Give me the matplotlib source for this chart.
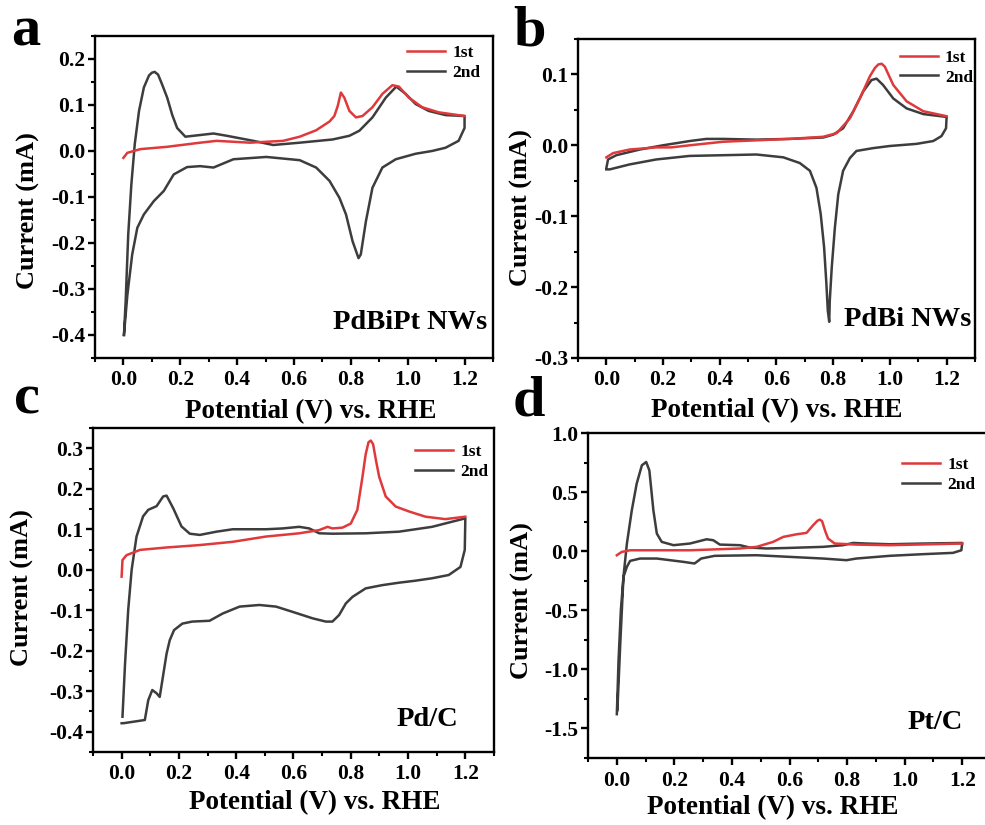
import matplotlib
matplotlib.use("Agg")
import matplotlib.pyplot as plt
from matplotlib.ticker import MultipleLocator, FormatStrFormatter

plt.rcParams['font.family'] = ['Liberation Serif', 'DejaVu Serif']
plt.rcParams['font.weight'] = 'bold'

RED = '#e0393b'
DARK = '#3d3d3d'

# ---- panel a : PdBiPt NWs ----
a_1st_v = [0.0, 0.014, 0.06, 0.153, 0.27, 0.328, 0.445, 0.562, 0.62, 0.678, 0.725,
           0.742, 0.754, 0.765, 0.777, 0.795, 0.818, 0.841, 0.876, 0.911, 0.946,
           0.969, 1.004, 1.051, 1.109, 1.2]
a_1st_i = [-0.015, -0.004, 0.004, 0.009, 0.018, 0.022, 0.018, 0.022, 0.031, 0.045, 0.064,
           0.076, 0.098, 0.127, 0.116, 0.087, 0.073, 0.076, 0.095, 0.124, 0.143,
           0.14, 0.116, 0.095, 0.084, 0.076]

a_2nd_v = [0.002, 0.008, 0.017, 0.028, 0.040, 0.055, 0.072, 0.090, 0.100, 0.110, 0.122,
           0.136, 0.154, 0.172, 0.189, 0.218, 0.317, 0.364, 0.457, 0.527, 0.62, 0.736,
           0.795, 0.83, 0.876, 0.923, 0.96, 0.993, 1.028, 1.074, 1.133, 1.2,
           1.2, 1.179, 1.133, 1.086, 1.028, 0.958, 0.911, 0.876, 0.853, 0.835, 0.827,
           0.806, 0.783, 0.76, 0.725, 0.678, 0.62, 0.503, 0.387, 0.317, 0.27, 0.224,
           0.177, 0.142, 0.107, 0.072, 0.049, 0.031, 0.014, 0.002]
a_2nd_i = [-0.40, -0.327, -0.182, -0.073, 0.015, 0.087, 0.138, 0.164, 0.170, 0.172, 0.166,
           0.145, 0.116, 0.078, 0.05, 0.031, 0.038, 0.033, 0.022, 0.013, 0.018, 0.025,
           0.033, 0.044, 0.073, 0.116, 0.14, 0.124, 0.102, 0.087, 0.078, 0.076,
           0.05, 0.022, 0.007, 0.0, -0.006, -0.018, -0.036, -0.08, -0.153, -0.225, -0.233,
           -0.196, -0.138, -0.102, -0.065, -0.036, -0.02, -0.013, -0.018, -0.036, -0.033, -0.035,
           -0.051, -0.087, -0.109, -0.138, -0.167, -0.225, -0.313, -0.40]

# ---- panel b : PdBi NWs ----
b_1st_v = [0.0, 0.024, 0.082, 0.176, 0.229, 0.294, 0.412, 0.529, 0.647, 0.765, 0.812,
           0.859, 0.894, 0.929, 0.947, 0.959, 0.971, 0.982, 1.012, 1.059, 1.118, 1.2]
b_1st_i = [-0.017, -0.011, -0.006, -0.003, -0.003, 0.0, 0.005, 0.007, 0.009, 0.012, 0.017,
           0.038, 0.066, 0.097, 0.109, 0.114, 0.115, 0.111, 0.085, 0.062, 0.048, 0.041]

b_2nd_v = [0.0, 0.006, 0.035, 0.118, 0.2, 0.294, 0.353, 0.412, 0.529, 0.647, 0.765,
           0.8, 0.835, 0.871, 0.906, 0.935, 0.953, 0.976, 1.012, 1.059, 1.118, 1.2,
           1.198, 1.182, 1.153, 1.094, 1.0, 0.941, 0.882, 0.859, 0.835, 0.818, 0.806,
           0.795, 0.788, 0.786, 0.781, 0.776, 0.768, 0.756, 0.741, 0.718, 0.682, 0.624,
           0.529, 0.412, 0.294, 0.176, 0.082, 0.012, 0.0]
b_2nd_i = [-0.032, -0.02, -0.014, -0.006, 0.0, 0.006, 0.009, 0.009, 0.008, 0.009, 0.011,
           0.015, 0.024, 0.048, 0.076, 0.092, 0.094, 0.085, 0.066, 0.052, 0.044, 0.04,
           0.024, 0.013, 0.006, 0.002, -0.001, -0.004, -0.008, -0.018, -0.036, -0.069, -0.116,
           -0.172, -0.219, -0.249, -0.233, -0.195, -0.144, -0.097, -0.06, -0.036, -0.025, -0.017,
           -0.013, -0.014, -0.015, -0.02, -0.027, -0.034, -0.034]

# ---- panel c : Pd/C ----
c_1st_v = [0.0, 0.003, 0.017, 0.064, 0.157, 0.273, 0.388, 0.504, 0.62, 0.69, 0.719,
           0.736, 0.771, 0.8, 0.823, 0.841, 0.852, 0.862, 0.87, 0.878, 0.888, 0.899,
           0.922, 0.957, 1.003, 1.061, 1.13, 1.2]
c_1st_i = [-0.017, 0.024, 0.036, 0.049, 0.055, 0.061, 0.069, 0.082, 0.09, 0.098, 0.106,
           0.102, 0.104, 0.114, 0.148, 0.23, 0.285, 0.315, 0.319, 0.31, 0.27, 0.23,
           0.181, 0.156, 0.144, 0.131, 0.125, 0.131]

c_2nd_v = [0.003, 0.012, 0.023, 0.035, 0.052, 0.075, 0.093, 0.122, 0.145, 0.157, 0.18,
           0.209, 0.238, 0.273, 0.331, 0.388, 0.504, 0.562, 0.62, 0.655, 0.69, 0.736,
           0.852, 0.968, 1.084, 1.2,
           1.198, 1.183, 1.142, 1.084, 1.026, 0.968, 0.91, 0.852, 0.806, 0.783, 0.759,
           0.736, 0.713, 0.667, 0.597, 0.539, 0.481, 0.412, 0.353, 0.307, 0.246, 0.212,
           0.183, 0.168, 0.157, 0.146, 0.133, 0.122, 0.107, 0.093, 0.081, 0.006, 0.0]
c_2nd_i = [-0.363, -0.231, -0.099, 0.0, 0.082, 0.132, 0.148, 0.157, 0.181, 0.183, 0.152,
           0.107, 0.089, 0.086, 0.094, 0.1, 0.1, 0.102, 0.106, 0.102, 0.09, 0.089,
           0.09, 0.094, 0.106, 0.127,
           0.049, 0.007, -0.013, -0.021, -0.027, -0.032, -0.038, -0.046, -0.067, -0.083, -0.112,
           -0.128, -0.128, -0.12, -0.104, -0.091, -0.087, -0.091, -0.108, -0.126, -0.128, -0.133,
           -0.149, -0.174, -0.207, -0.256, -0.314, -0.305, -0.297, -0.322, -0.371, -0.379, -0.379]

# ---- panel d : Pt/C ----
d_1st_v = [0.0, 0.017, 0.046, 0.254, 0.428, 0.486, 0.543, 0.578, 0.624, 0.659, 0.682,
           0.697, 0.705, 0.713, 0.724, 0.734, 0.757, 0.833, 0.948, 1.2]
d_1st_i = [-0.034, -0.006, 0.008, 0.008, 0.023, 0.037, 0.079, 0.121, 0.143, 0.155, 0.22,
           0.258, 0.267, 0.255, 0.17, 0.107, 0.065, 0.056, 0.051, 0.065]

d_2nd_v = [0.002, 0.012, 0.023, 0.035, 0.052, 0.069, 0.087, 0.102, 0.113, 0.127, 0.139,
           0.156, 0.197, 0.254, 0.312, 0.335, 0.358, 0.428, 0.462, 0.52, 0.601, 0.717,
           0.786, 0.821, 0.867, 0.948, 1.064, 1.2,
           1.197, 1.168, 1.064, 0.948, 0.832, 0.798, 0.717, 0.601, 0.486, 0.34, 0.293,
           0.27, 0.231, 0.139, 0.081, 0.046, 0.035, 0.023, 0.014, 0.006, 0.0]
d_2nd_i = [-1.345, -0.78, -0.217, 0.065, 0.346, 0.572, 0.727, 0.755, 0.684, 0.346, 0.149,
           0.079, 0.051, 0.065, 0.101, 0.093, 0.056, 0.051, 0.031, 0.023, 0.028, 0.037,
           0.051, 0.07, 0.065, 0.059, 0.065, 0.07,
           0.008, -0.014, -0.025, -0.039, -0.062, -0.076, -0.062, -0.048, -0.034, -0.039, -0.062,
           -0.104, -0.09, -0.062, -0.062, -0.082, -0.132, -0.217, -0.499, -0.922, -1.379]

panels = [
    # letter, first, second, name, ylim, ymajor, rect, ylabel xy, xlabel xy, name xy, legend xy, letter px
    ('a', (a_1st_v, a_1st_i), (a_2nd_v, a_2nd_i), 'PdBiPt NWs', (-0.45, 0.25), 0.1,
     [0.0964, 0.5661, 0.4041, 0.3903], (-0.138, 0.457), (0.543, -0.127),
     (0.985, 0.109), (0.784, 0.972), (11, 45)),
    ('b', (b_1st_v, b_1st_i), (b_2nd_v, b_2nd_i), 'PdBi NWs', (-0.3, 0.15), 0.1,
     [0.5868, 0.5661, 0.4030, 0.3867], (-0.113, 0.47), (0.5, -0.125),
     (0.992, 0.122), (0.811, 0.966), (513, 45)),
    ('c', (c_1st_v, c_1st_i), (c_2nd_v, c_2nd_i), 'Pd/C', (-0.45, 0.35), 0.1,
     [0.0944, 0.0885, 0.4071, 0.3927], (-0.147, 0.506), (0.553, -0.117),
     (0.91, 0.099), (0.803, 0.951), (14, 413)),
    ('d', (d_1st_v, d_1st_i), (d_2nd_v, d_2nd_i), 'Pt/C', (-1.75, 1.0), 0.5,
     [0.5970, 0.0812, 0.4091, 0.3939], (-0.134, 0.486), (0.459, -0.113),
     (0.93, 0.11), (0.779, 0.926), (513, 415)),
]

fig = plt.figure(figsize=(9.85, 8.25), dpi=100)

for (letter, first, second, name, ylim, ymaj, rect, ylab_xy, xlab_xy,
     name_xy, leg_xy, letter_px) in panels:
    ax = fig.add_axes(rect)
    ax.plot(first[0], first[1], color=RED, lw=1.8, label='1st', zorder=3)
    ax.plot(second[0], second[1], color=DARK, lw=1.8, label='2nd', zorder=2)

    ax.set_xlim(-0.1, 1.3)
    ax.set_ylim(*ylim)
    ax.set_xticks([0.0, 0.2, 0.4, 0.6, 0.8, 1.0, 1.2])
    ax.xaxis.set_minor_locator(MultipleLocator(0.1))
    ax.yaxis.set_major_locator(MultipleLocator(ymaj))
    ax.yaxis.set_minor_locator(MultipleLocator(ymaj / 2))
    ax.xaxis.set_major_formatter(FormatStrFormatter('%.1f'))
    ax.yaxis.set_major_formatter(FormatStrFormatter('%.1f'))

    for s in ax.spines.values():
        s.set_linewidth(1.7)
    ax.tick_params(which='major', direction='out', length=5, width=1.7,
                   labelsize=15.5)
    ax.tick_params(axis='y', which='major', pad=2)
    ax.tick_params(axis='x', which='major', pad=4)
    ax.tick_params(which='minor', direction='out', length=3, width=1.5)
    for lbl in ax.get_xticklabels() + ax.get_yticklabels():
        lbl.set_fontweight('bold')

    ax.set_ylabel('Current (mA)', fontsize=19, fontweight='bold')
    ax.set_xlabel('Potential (V) vs. RHE', fontsize=19.5, fontweight='bold')
    ax.yaxis.set_label_coords(*ylab_xy)
    ax.xaxis.set_label_coords(*xlab_xy)

    ax.text(name_xy[0], name_xy[1], name, transform=ax.transAxes, ha='right',
            va='center', fontsize=20.5, fontweight='bold')

    ax.legend(loc='upper left', bbox_to_anchor=leg_xy, frameon=False,
              prop={'size': 12.5, 'weight': 'bold'}, handlelength=2.2,
              handletextpad=0.4, labelspacing=0.2, borderpad=0, borderaxespad=0)

    fig.text(letter_px[0] / 985, 1 - letter_px[1] / 825, letter, fontsize=42,
             fontweight='bold', ha='left', va='baseline')

fig.savefig('out.png', dpi=100)
